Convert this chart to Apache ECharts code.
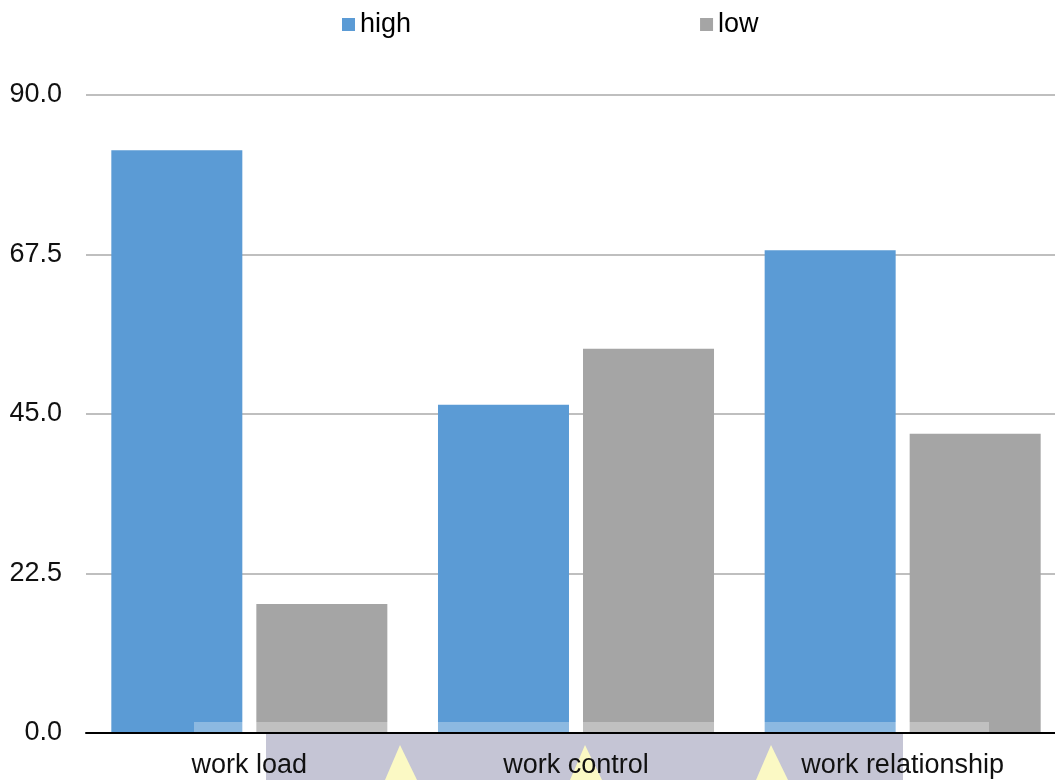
<!DOCTYPE html>
<html>
<head>
<meta charset="utf-8">
<script src="https://cdn.jsdelivr.net/npm/echarts@6/dist/echarts.min.js"></script>
<style>
    html, body { margin: 0; padding: 0; background: #ffffff; }
    #main { width: 1055px; height: 780px; }
</style>
</head>
<body>
<div id="main"></div>
<script>
    var categories = ['work load', 'work control', 'work relationship'];
    var highValues = [82.2, 46.3, 68.1];
    var lowValues = [18.2, 54.2, 42.2];
    var yTicks = [0, 22.5, 45, 67.5, 90];

    var chartDom = document.getElementById('main');
    var myChart = echarts.init(chartDom);
    var option;

    option = {
        animation: false,
        textStyle: { fontFamily: 'Liberation Sans, Arial, sans-serif' },
        color: ['#5b9bd5', '#a5a5a5'],
        legend: {
            data: ['high', 'low'],
            left: 337,
            top: 6,
            icon: 'rect',
            itemWidth: 13,
            itemHeight: 13,
            itemGap: 289,
            textStyle: { fontSize: 27, color: '#000000' }
        },
        grid: {
            left: 86,
            width: 980,
            top: 95,
            bottom: 47,
            outerBoundsMode: 'none'
        },
        xAxis: {
            type: 'category',
            data: categories,
            z: 5,
            axisLine: { lineStyle: { color: '#000000', width: 2 } },
            axisTick: { show: false },
            axisLabel: { fontSize: 27, color: '#111111', margin: 19 }
        },
        yAxis: {
            type: 'value',
            min: yTicks[0],
            max: yTicks[yTicks.length - 1],
            interval: yTicks[1] - yTicks[0],
            axisLine: { show: false },
            axisTick: { show: false },
            axisLabel: {
                fontSize: 27,
                color: '#111111',
                margin: 24,
                formatter: function (v) { return v.toFixed(1); }
            },
            splitLine: { lineStyle: { color: '#bfbfbf', width: 2 } }
        },
        series: [
            {
                name: 'high',
                type: 'bar',
                data: highValues,
                barWidth: 131,
                barGap: '10.7%'
            },
            {
                name: 'low',
                type: 'bar',
                data: lowValues,
                barWidth: 131,
                barGap: '10.7%'
            }
        ],
        // the faded overlay band and marks along the bottom of the picture
        graphic: [
            {
                type: 'rect',
                z: 0,
                shape: { x: 266, y: 734, width: 637, height: 46 },
                style: { fill: '#c5c5d5' }
            },
            {
                type: 'rect',
                z: 100,
                shape: { x: 194, y: 722, width: 795, height: 10 },
                style: { fill: 'rgba(255,255,255,0.3)' }
            },
            {
                type: 'polygon',
                z: 1,
                shape: { points: [[400, 745], [385, 780], [417, 780]] },
                style: { fill: '#fbf9c4' }
            },
            {
                type: 'polygon',
                z: 1,
                shape: { points: [[585, 745], [570, 780], [602, 780]] },
                style: { fill: '#fbf9c4' }
            },
            {
                type: 'polygon',
                z: 1,
                shape: { points: [[771, 745], [756, 780], [788, 780]] },
                style: { fill: '#fbf9c4' }
            }
        ]
    };

    option && myChart.setOption(option);
</script>
</body>
</html>
